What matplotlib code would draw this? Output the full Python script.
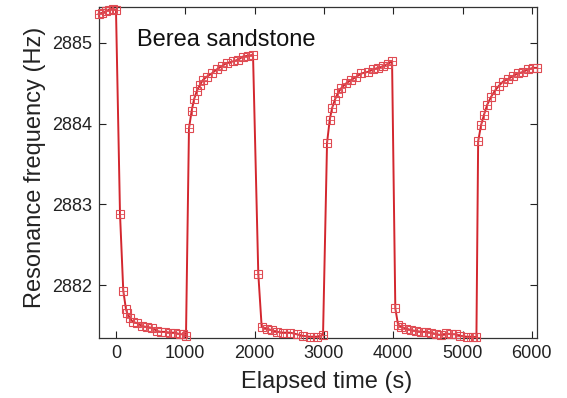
import matplotlib
matplotlib.use('Agg')
import matplotlib.pyplot as plt

plt.rcParams['font.family'] = ['Liberation Sans', 'DejaVu Sans']

# Elapsed time (s) and resonance frequency (Hz)
time_s = [
    -250, -200, -150, -100, -50, 0,
    58, 105, 144, 163, 202, 245, 303, 375, 447, 519, 592, 650, 707, 779, 851, 924, 967, 1010,
    1053, 1092, 1126, 1165, 1212, 1255, 1309, 1381, 1453, 1525, 1597, 1688, 1760, 1833, 1905, 1977,
    2053, 2102, 2175, 2247, 2319, 2410, 2511, 2608, 2698, 2799, 2896, 2987,
    3045, 3084, 3117, 3156, 3203, 3251, 3323, 3395, 3468, 3540, 3636, 3709, 3781, 3853, 3925, 3983,
    4030, 4069, 4117, 4189, 4261, 4333, 4405, 4477, 4550, 4622, 4694, 4766, 4839, 4911, 4964, 5060,
    5156, 5200,
    5225, 5267, 5310, 5354, 5411, 5469, 5527, 5584, 5657, 5729, 5801, 5873, 5945, 6017, 6070,
]
freq_hz = [
    2885.36, 2885.37, 2885.39, 2885.41, 2885.42, 2885.41,
    2882.88, 2881.93, 2881.70, 2881.65, 2881.59, 2881.54, 2881.53, 2881.49, 2881.48, 2881.47,
    2881.43, 2881.42, 2881.42, 2881.41, 2881.41, 2881.39, 2881.39, 2881.37,
    2883.94, 2884.16, 2884.30, 2884.40, 2884.48, 2884.54, 2884.58, 2884.62, 2884.67, 2884.71,
    2884.75, 2884.77, 2884.79, 2884.83, 2884.84, 2884.85,
    2882.14, 2881.48, 2881.46, 2881.44, 2881.42, 2881.41, 2881.41, 2881.39, 2881.37, 2881.36,
    2881.36, 2881.38,
    2883.76, 2884.05, 2884.19, 2884.29, 2884.38, 2884.44, 2884.50, 2884.54, 2884.58, 2884.62,
    2884.64, 2884.67, 2884.69, 2884.71, 2884.74, 2884.77,
    2881.71, 2881.51, 2881.48, 2881.46, 2881.44, 2881.43, 2881.42, 2881.42, 2881.41, 2881.39,
    2881.38, 2881.40, 2881.39, 2881.39, 2881.37, 2881.36, 2881.36, 2881.35,
    2883.78, 2883.98, 2884.11, 2884.23, 2884.33, 2884.41, 2884.47, 2884.52, 2884.55, 2884.59,
    2884.62, 2884.64, 2884.67, 2884.69, 2884.69,
]

x_ticks = [0, 1000, 2000, 3000, 4000, 5000, 6000]
y_ticks = [2882, 2883, 2884, 2885]
sample_label = 'Berea sandstone'

RED = '#d3262e'
MARKER_RED = '#df4a52'


def main():
    fig = plt.figure(figsize=(5.67, 3.98), dpi=100)
    ax = fig.add_axes([0.174, 0.15, 0.7726, 0.8317])

    ax.plot(time_s, freq_hz, color=RED, lw=1.4, marker='s', ms=5.8,
            mfc='none', mec=MARKER_RED, mew=0.8, clip_on=False, zorder=3)
    ax.plot(time_s, freq_hz, ls='none', marker='+', ms=5.8, mec=MARKER_RED,
            mew=0.6, clip_on=False, zorder=3)

    ax.set_xlim(-250, 6070)
    ax.set_ylim(2881.34, 2885.44)
    ax.set_xticks(x_ticks)
    ax.set_yticks(y_ticks)
    ax.tick_params(direction='in', top=True, right=True, length=5,
                   width=0.8, labelsize=13, pad=5, colors='#222222')
    for spine in ax.spines.values():
        spine.set_linewidth(0.9)
        spine.set_color('#333333')

    ax.set_xlabel('Elapsed time (s)', fontsize=17, color='#222222')
    ax.set_ylabel('Resonance frequency (Hz)', fontsize=17, color='#222222')
    ax.xaxis.set_label_coords(0.52, -0.098)
    ax.yaxis.set_label_coords(-0.12, 0.517)
    ax.text(0.087, 0.90, sample_label, transform=ax.transAxes, fontsize=17,
            va='center', ha='left', color='#111111')

    fig.savefig('out.png', dpi=100)


if __name__ == '__main__':
    main()
